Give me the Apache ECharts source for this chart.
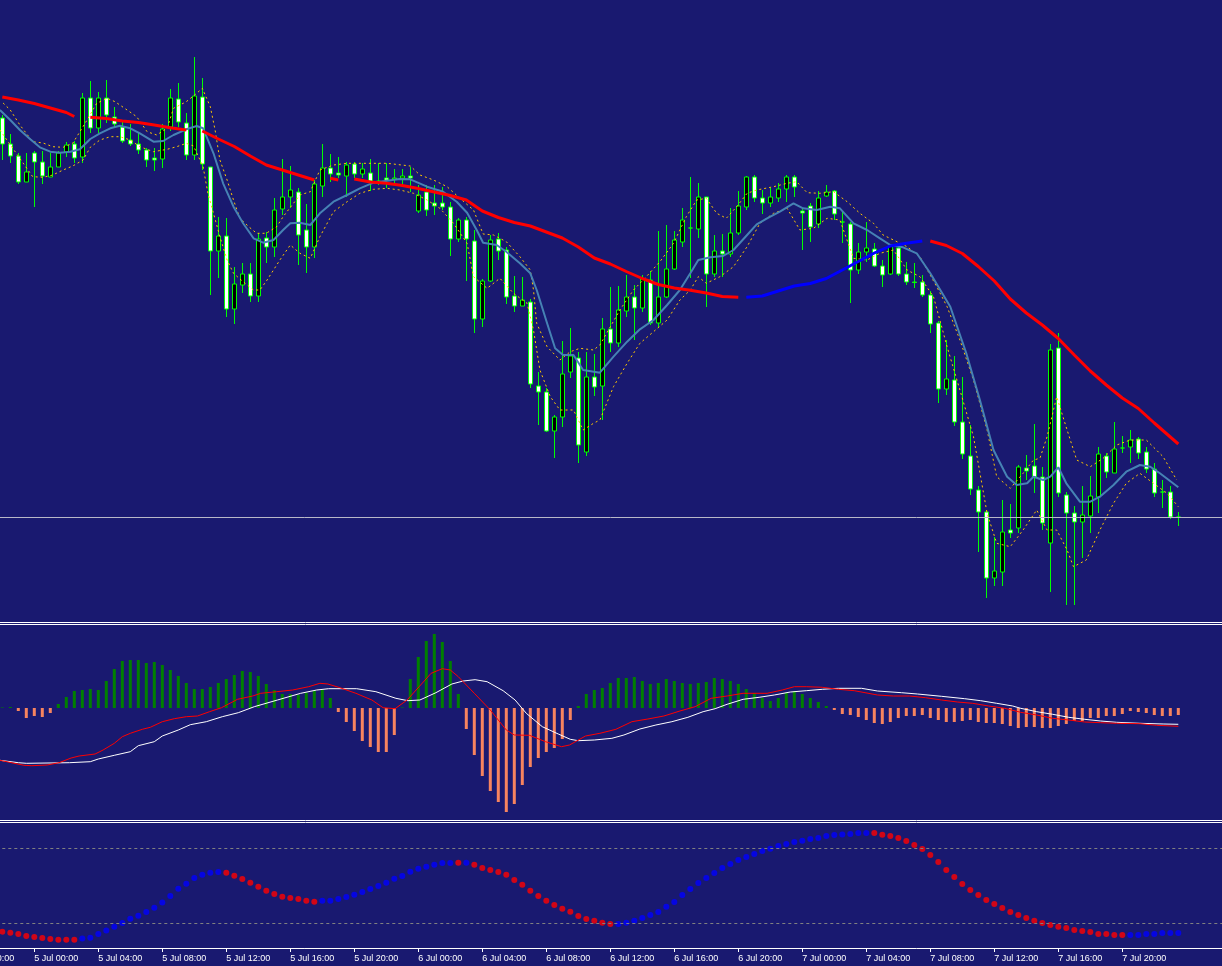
<!DOCTYPE html>
<html><head><meta charset="utf-8">
<script src="https://cdn.jsdelivr.net/npm/echarts@6/dist/echarts.min.js"></script>
<style>html,body{margin:0;padding:0;background:#191970;overflow:hidden}#c{width:1222px;height:966px}</style>
</head><body><div id="c"></div>
<script>
// ---- time axis labels (one every 8 bars of 30 min, first at 4 Jul 20:00) ----
const tickLabels = ["4 Jul 20:00","5 Jul 00:00","5 Jul 04:00","5 Jul 08:00","5 Jul 12:00","5 Jul 16:00","5 Jul 20:00",
  "6 Jul 00:00","6 Jul 04:00","6 Jul 08:00","6 Jul 12:00","6 Jul 16:00","6 Jul 20:00",
  "7 Jul 00:00","7 Jul 04:00","7 Jul 08:00","7 Jul 12:00","7 Jul 16:00","7 Jul 20:00"];
const LEAD = 4, TRAIL = 5;            // empty slots before first / after last bar
// ---- candles: [open, close, low, high] (price units) ----
const candles = [
[502,476,460,505],[476,464,457,486],[464,438,436,467],[438,448,438,467],[467,458,413,469],
[458,444,436,469],[443,453,443,467],[453,467,453,469],[468,475,463,478],[476,462,457,479],
[463,522,457,527],[522,492,487,539],[492,522,487,528],[522,505,497,540],[503,496,492,513],
[493,479,477,498],[480,476,474,496],[476,470,466,487],[470,460,453,472],[462,460,449,472],
[461,491,452,496],[493,522,489,531],[521,498,493,537],[497,465,460,507],[465,524,460,563],
[523,456,450,542],[453,369,325,453],[369,384,342,403],[384,311,303,402],[311,336,296,353],
[335,346,327,357],[346,324,318,357],[324,381,318,387],[382,373,357,388],[373,410,363,422],
[411,423,405,461],[423,430,412,454],[428,385,355,432],[390,373,347,416],[373,436,362,440],
[434,452,423,476],[452,446,438,466],[447,445,442,463],[444,455,423,458],[456,446,442,458],
[446,451,442,457],[447,439,429,461],[439,438,435,457],[442,440,432,457],[441,442,435,451],
[442,444,435,451],[444,442,428,453],[409,425,407,435],[428,410,404,435],[417,414,405,435],
[417,413,410,433],[413,381,364,418],[381,400,378,402],[400,381,339,403],[379,301,287,390],
[301,339,293,341],[339,380,338,385],[381,369,360,387],[370,323,316,373],[324,314,308,344],
[314,320,314,343],[318,236,232,321],[234,228,195,248],[228,189,188,232],[189,203,162,205],
[203,246,193,279],[248,264,242,292],[262,175,157,268],[168,243,164,268],[243,233,224,266],
[234,291,200,302],[291,277,268,333],[277,310,273,334],[309,323,303,345],[323,312,280,335],
[312,341,308,345],[340,297,295,349],[297,323,293,389],[323,351,322,395],[351,380,350,389],
[378,400,373,412],[392,392,342,443],[391,423,382,437],[423,346,313,423],[346,369,343,385],
[369,366,343,386],[366,387,363,412],[387,414,385,429],[413,443,410,444],[443,422,418,445],
[422,417,406,430],[417,423,413,432],[422,431,418,437],[431,443,418,445],[443,433,423,445],
[409,407,370,412],[414,393,378,417],[396,422,392,429],[424,428,423,435],[429,406,400,430],
[398,398,377,408],[396,350,317,398],[350,368,346,377],[368,372,358,398],[371,354,353,377],
[354,345,333,360],[346,374,345,376],[372,346,344,375],[346,338,335,358],[338,337.5,332,357],
[338,325,323,345],[325,296,287,329],[297,231,217,299],[231,241,225,280],[240,198,194,264],
[198,166,161,243],[164,131,125,195],[130,108,68,134],[108,42,22,110],[42,49,34,83],
[48,88,34,120],[90,87,82,116],[92,153,87,155],[152,149,140,165],[154,143,127,196],
[143,97,90,153],[77,270,28,276],[272,127,123,287],[125,107,15,128],[107,98,15,114],
[98,105,62,134],[104,124,87,144],[123,166,107,173],[164,148,142,167],[147,171,147,198],
[172,172,167,184],[173,180,157,190],[181,167,161,183],[168,151,147,173],[151,127,123,157],
[128,128,112,140],[128,103,101,134],[103,103,94,108]];
const bidPrice = 103;
// ---- slow MA, drawn red while falling and blue while rising: [bar, value] ----
const maRedSegments = [
 [[0,523],[2,520],[4,516.5],[6,512],[8,507.5],[9,503.5]],
 [[11,502.7],[13,501.5],[15,499],[17,497.5],[19,495],[21,492.3],[23,490]],
 [[25,489],[27,481],[29,473.5],[31,464],[33,455],[35,450],[37,445],[39,440]],
 [[41,441.7],[42,440]],
 [[44,441],[46,438],[48,436.7],[50,434.5],[52,431.5],[54,428],[56,424.5],[58,420],[60,409],[62,402.5],[64,397.5],[66,394],[68,388],[70,382],[72,373],[74,362],[76,356],[78,348.5],[80,341.5],[82,335.5],[84,332],[86,329.7],[88,327],[90,323.5],[92,322.7]],
 [[116,379],[118,374.5],[120,366.5],[122,353.5],[124,339],[126,321],[128,307],[130,295],[132,281.5],[134,265],[136,249],[138,235],[140,222],[142,211.5],[144,197],[146,183],[147,176]]
];
const maBlueSegments = [
 [[93,322.7],[95,324],[97,329],[99,334],[101,336.5],[103,341.5],[105,350],[107,358.5],[109,367],[111,374],[113,376.7],[115,379]]
];
// ---- fast MA (steel blue) ----
const maFast = [[-0.3,510],[1,500],[2.2,490],[3.5,480.7],[4.7,472.7],[6,468.3],[7.2,467.3],[8.5,468.3],[9.7,470.7],[11,481],[12.2,486.7],[13.5,491.7],[14.7,494.3],[16,491.7],[17.2,486.7],[18.9,478.3],[20.1,479],[21.4,485],[23,490.7],[24.3,494],[25.1,491.7],[26.4,466.7],[27.6,436.7],[28.9,413.3],[30.1,396.7],[31.4,381.7],[32.6,377.3],[33.9,380],[35.1,390],[36,396.7],[37.2,397.3],[38.5,395],[39.7,406.7],[41.4,418.3],[43.1,425],[44.7,431.7],[46.4,437.3],[48.1,439.3],[49.7,441],[51,440.7],[53.1,433.3],[55.1,428.3],[56.8,418.3],[58.1,407.3],[59.3,390],[60.1,377.3],[61.8,375],[63,368.3],[64.7,356.7],[66,346.7],[66.8,330],[68.1,296.7],[69.1,271.7],[70.1,265],[71.4,265],[72.6,250],[74.7,247.3],[76.4,263.3],[78.1,278.3],[79.7,290.7],[81.4,300],[83.1,315],[84.7,330],[86,346.7],[87,360],[88.5,362.7],[90.1,364],[91.4,370],[93.1,385],[94.3,395.7],[95.6,401.7],[97.2,408.3],[98.9,416.7],[100.1,411.7],[101.8,410],[103.5,413.3],[104.7,411.7],[106.4,396.7],[108.1,390],[109.7,381.7],[111,375],[112.6,372.7],[114.3,366.7],[116,346.7],[118.5,313.3],[120.5,266.7],[122.2,220],[123.9,170],[125.6,143.3],[126.8,135],[128.1,136.7],[128.9,143.3],[130.1,140],[131,143.3],[132,152.7],[133,136.7],[134.7,118.3],[136,118.3],[137.2,123.3],[138.9,135],[140.5,148.3],[142.2,155],[143.5,153.3],[144.7,146.7],[147,132.7]];
// ---- envelope bands (dotted yellow) ----
const bandUpper = [[0.1,517],[1,510],[2.2,495],[3.8,478.3],[5.1,477],[6.3,473.3],[7.6,472.7],[8.8,476.7],[9.7,488.3],[10.6,500],[11.8,516.7],[13.1,521.7],[14.1,518.3],[15.6,510],[16.8,503.3],[18.1,488.3],[19.3,485],[20.6,491.7],[21.4,511.7],[23,518.3],[24.3,526.7],[25,531.7],[26,513.3],[26.6,490],[27.2,460],[28.1,440],[28.9,420],[29.7,401.7],[30.8,393.3],[31.8,386.7],[33,386.7],[34.3,393.3],[35.1,403.3],[36.4,416.7],[37.2,425],[38.5,428.3],[39.7,450],[41.4,455],[43.1,456.7],[45.5,456.7],[48.1,456.7],[51,454],[52.2,445],[53.9,440],[55.6,433.3],[57.2,421.7],[58.9,410],[60.1,386],[61.4,385],[63,378.3],[64.7,363.3],[66,350],[66.4,330],[66.8,296.7],[68.1,273.3],[69.7,260],[71,268.3],[72.2,271.7],[73.9,270],[74.7,275],[77.2,310],[78.9,330],[80.5,343.3],[82.2,358.3],[83.9,376.7],[85.5,403.3],[86.8,420],[88,421.7],[89.3,406.7],[90.5,401.7],[91.8,413.3],[93.1,426.7],[94.3,430],[96.4,433.3],[98.1,436.7],[99.3,438.3],[100.6,427.3],[102.2,426.7],[103.9,428.3],[105.6,418.3],[107.2,406.7],[108.9,396.7],[110.1,385],[111.4,380],[113.1,373.3],[114.7,363.3],[116.8,333.3],[118.1,313.3],[119.7,280],[121.4,240],[123.1,190],[124.3,143.3],[126,131.7],[127.6,146.7],[128.9,160],[129.7,161.7],[130.6,183.3],[131.8,223.3],[133.1,190],[134.3,160],[136,153.3],[137.6,161.7],[139.3,175],[141,180],[143,180],[145.1,163.3],[146.8,140]];
const bandLower = [[-0.3,490],[3.8,443.3],[5.1,442.7],[6.3,445],[7.6,450],[8.8,454],[10.1,460],[11,472.7],[12.2,480],[13.5,483.3],[14.7,483.3],[16,480],[17.2,473.3],[18.9,468.3],[20.6,470.7],[21.8,473.3],[23,476.7],[23.9,474],[25.1,453.3],[25.7,426.7],[26.4,406.7],[27.2,383.3],[28.1,360],[28.9,346.7],[30.1,338.3],[31.4,330],[32.2,330],[33.1,340],[33.9,350],[34.7,360],[36,375],[37.2,366.7],[38.5,361.7],[39.7,383.3],[41.4,408.3],[43.1,418.3],[44.7,426.7],[46.4,430.7],[48.1,431.7],[49.7,430],[51.4,426.7],[53.1,420],[54.7,411.7],[56.4,396.7],[58.1,376.7],[58.9,343.3],[60.6,331.7],[62.2,341.7],[63.9,326.7],[65.6,316.7],[66.4,290],[67.2,250],[68.5,223.3],[69.7,210],[71.4,210],[72.6,190],[73.9,196.7],[74.7,200],[76.4,233.3],[78.1,256.7],[79.7,276.7],[81.4,288.3],[83.1,300],[84.7,320],[86,330],[87,343.3],[88,336.7],[89.7,343.3],[91.4,353.3],[93.1,373.3],[94.7,396.7],[96.4,406.7],[98.1,411.7],[99.7,390],[101.4,391.7],[103.1,401.7],[104.7,400],[106.4,361.7],[108.1,360],[109.7,366.7],[111.4,370],[113.1,350],[114.7,343.3],[116.4,323.3],[118.1,273.3],[119.7,230],[121.4,183.3],[123.1,106.7],[124.3,76.7],[126,73.3],[127.6,90],[129.3,110],[130.6,90],[131.8,90],[133.1,70],[133.9,53.3],[135.5,60],[137.2,90],[138.9,116.7],[140.5,136.7],[142.2,146.7],[143.9,136.7],[145.6,126.7],[147,113.3]];
// ---- MACD panel ----
const macdHist = [0.5,1,-3,-10,-8,-9,-5,4,11,17, 18,19,18,27,39,47,48,48,45,46, 43,38,32,25,19,19,21,25,29,33,
 37,36,32,24,18,14,14,13,15,17, 18,10,-4,-14,-23,-33,-39,-44,-44,-27, 0.5,29,51,67,74,66,47,14,-21,-47,
 -68,-83,-94,-104,-96,-77,-59,-50,-44,-40, -31,-12,2,14,18,20,25,30,30,31, 27,24,25,29,27,25,24,25,26,30,
 29,27,24,19,15,10,7,10,15,17, 14,10,6,2,-2,-6,-7,-9,-12,-15, -16,-14,-10,-8,-8,-7,-10,-12,-14,-14,
 -13,-12,-14,-15,-15,-16,-18,-20,-19,-19, -20,-20,-18,-16,-13,-13,-10,-10,-8,-8, -6,-3,-4,-5,-7,-8,-8,-7];
const macdWhite = [[-0.3,-52.3],[2,-54.7],[3,-55.3],[8.4,-54.7],[11,-53.7],[12,-51],[14,-47.3],[16,-43.7],[17,-37.7],[19,-33.7],[20,-28],[22,-22],[23.5,-16.7],[25.5,-13.7],[27.5,-8.7],[29.5,-4.7],[31.5,1.3],[34.4,8],[37.3,14.7],[39.3,18],[40.8,19.3],[44.3,19.3],[46.7,16.3],[49.2,9.7],[50.7,7.3],[52.2,8],[54.2,15.3],[56.2,24],[57.6,27],[59.1,28.3],[60.6,26.3],[62.6,17.3],[64.1,8],[65.5,-5.3],[67.5,-18.7],[69.5,-26],[71,-31.3],[72,-32.7],[74,-32],[76.2,-30.3],[77.7,-27],[79.7,-21],[81.7,-17],[83.7,-13.7],[85.7,-9.3],[87.6,-3.7],[89.1,-0.7],[90.6,3.7],[92.6,8.7],[94.6,10.7],[96.5,13],[98.5,16],[100.5,17.3],[102.5,18.7],[104.5,19.7],[107.4,19.7],[109.4,17],[112.4,15.3],[114.4,14],[117.4,11.7],[120.3,9.3],[122.3,7.3],[124.3,4.7],[126.3,2],[127.3,-0.3],[129.3,-3.7],[131.3,-6.3],[133.3,-9.3],[135.3,-11.3],[137.3,-13],[139.3,-14.3],[142.2,-15.3],[145.2,-16],[147,-16.3]];
const macdRed = [[-0.3,-52.3],[2.7,-57.3],[3.7,-57.7],[5.6,-57],[7.1,-54.7],[8.6,-50],[9.6,-48],[11.6,-46],[12.6,-42],[14,-35.3],[15,-28.7],[16,-25.3],[17.5,-21.3],[18.5,-19.3],[20,-13.7],[21.5,-10.7],[23,-8.7],[24.4,-8],[25.9,-3.7],[27.4,0.3],[29.4,8.7],[31.3,12],[32.3,14.7],[34.3,16.3],[36.3,18],[38.3,21.3],[39.7,24.7],[40.7,24],[42.2,20.3],[44.2,14.7],[46.2,8],[47.6,0.3],[49.1,-0.7],[50.6,8],[52.1,21.3],[53.6,34.7],[55,39.3],[56,38],[57,31.3],[59,14.7],[61,-2],[63,-22],[64,-27],[65.9,-27.3],[67.9,-33.7],[69.9,-38.7],[70.9,-37],[72.9,-28],[74.7,-25.3],[76.7,-21.3],[78.7,-13.7],[80.7,-11],[82.7,-8],[84.7,-3],[86.6,1.3],[88.6,9.7],[90.6,12],[92.6,14.7],[95.6,14.7],[97.5,18],[99,21.3],[100.5,21.3],[102.5,20.7],[104.5,18.7],[106.5,17.3],[109.4,13],[111.4,12],[113.4,12],[115.4,10.3],[117.4,8],[119.4,6],[121.3,4.7],[123.3,2],[125.3,-0.3],[127.3,-4.3],[129.3,-7],[131.3,-10.3],[133.3,-12],[135.3,-14],[137.3,-14.7],[139.3,-15.3],[142.2,-15.7],[144.3,-17.3],[147,-18.3]];
// ---- dotted oscillator (0..100) ----
const dotValues = [13.1,12.3,11.2,9.6,8.8,8,7.2,6.7,6.7,6.7,
 7.7,8.3,11.2,14.1,17.1,20,23.5,25.9,28.8,32.3,36.5,41.6,47.5,51.5,56,58.7,60.3,60.8,
 60.3,57.9,55.2,52.3,49.1,45.9,43.2,41.1,40,39.2,37.9,37.1,
 37.9,37.9,39.2,40.8,42.7,44.8,47.2,49.6,52.3,55.5,57.6,61.1,63.5,65.1,66.7,68,68,
 68.3,68.3,
 66.7,64,62.4,60.8,58.7,54.4,50.7,45.9,41.6,37.9,34.4,31.5,29.1,25.6,23.2,21.9,20.3,19.2,
 19.2,20.3,21.9,24,26.4,28.8,33.1,36.8,42.4,47.2,52,56,60,64,67.2,70.4,72.8,75.2,77.6,79.5,81.6,83.2,84.8,85.9,87.2,88,89.6,90.4,90.9,91.2,92,92,
 92,90.7,89.6,88,85.6,82.4,79.2,74.4,68.8,62.4,56.8,51.2,46.4,42.4,38.4,35.2,32,28.8,26.4,24,21.9,20,18.4,17.1,16,14.4,13.6,12.8,11.2,11.2,10.4,10.4,
 10.4,10.4,11.2,11.2,12,12,12];
const dotBlueRanges = [[10,27],[40,56],[58,58],[77,108],[141,147]];
const dotLevels = [80, 20];

// ---------------- chart ----------------
const NBARS = candles.length;
const NCAT = LEAD + NBARS + TRAIL;
const cats = Array.from({length: NCAT}, (_, k) => 'b' + k);
const pad = a => [...Array(LEAD).fill('-'), ...a, ...Array(TRAIL).fill('-')];
const isBlue = i => dotBlueRanges.some(r => i >= r[0] && i <= r[1]);
const dotsBlue = [], dotsRed = [];
dotValues.forEach((v, i) => (isBlue(i) ? dotsBlue : dotsRed).push([i, v]));
const showTick = idx => idx % 8 === 0 && idx / 8 < tickLabels.length;

const GL = -33.7, GW = NCAT * 8;
const gridBase = {left: GL, width: GW, outerBoundsMode: 'none', containLabel: false};
const grids = [
  Object.assign({top: 0, height: 620}, gridBase),
  Object.assign({top: 626, height: 194}, gridBase),
  Object.assign({top: 823, height: 125}, gridBase)
];
const hidden = {show: false};
const catAxis = (g, visible) => ({
  type: 'category', gridIndex: g, data: cats, boundaryGap: true, show: visible,
  axisLine: {show: visible, lineStyle: {color: '#ffffff', width: 1}},
  axisTick: {show: visible, alignWithLabel: true, interval: showTick, length: 4, lineStyle: {color: '#ffffff'}},
  axisLabel: {show: visible, interval: showTick, formatter: (v, idx) => tickLabels[idx / 8] || '',
    align: 'left', color: '#ffffff', fontSize: 9, fontFamily: 'Liberation Sans', margin: 6, hideOverlap: false},
  splitLine: hidden
});
const valX = g => ({type: 'value', gridIndex: g, min: -LEAD - 0.5, max: NBARS + TRAIL - 0.5, show: false, splitLine: hidden});
const line = (data, color, width, xi, yi, type) => ({
  type: 'line', data, xAxisIndex: xi, yAxisIndex: yi, symbol: 'none', silent: true, z: 5,
  lineStyle: {color, width, type: type || 'solid'}, animation: false
});

const series = [
  {type: 'candlestick', xAxisIndex: 0, yAxisIndex: 0, data: pad(candles), barWidth: 4, z: 3, silent: true,
   itemStyle: {color: '#000000', color0: '#ffffff', borderColor: '#00ff00', borderColor0: '#00ff00', borderColorDoji: '#00ff00', borderWidth: 1},
   markLine: {silent: true, symbol: 'none', label: {show: false}, animation: false,
     lineStyle: {color: '#b8b8c8', width: 1, type: 'solid'}, data: [{yAxis: bidPrice}]}},
  line(bandUpper, '#ffc800', 1, 3, 0, [2, 3]),
  line(bandLower, '#ffc800', 1, 3, 0, [2, 3]),
  line(maFast, '#4682b4', 2, 3, 0),
  ...maRedSegments.map(s => line(s, '#ff0000', 3, 3, 0)),
  ...maBlueSegments.map(s => line(s, '#0000ff', 3, 3, 0)),
  {type: 'bar', xAxisIndex: 1, yAxisIndex: 1, data: pad(macdHist), barWidth: 3, silent: true, animation: false,
   itemStyle: {color: p => (p.value >= 0 ? '#008000' : '#f7845f')}},
  line(macdWhite, '#ffffff', 1, 4, 1),
  line(macdRed, '#ff0000', 1, 4, 1),
  {type: 'scatter', xAxisIndex: 5, yAxisIndex: 2, data: dotsRed, symbolSize: 6, silent: true, animation: false,
   itemStyle: {color: '#ff0000'},
   markLine: {silent: true, symbol: 'none', label: {show: false}, animation: false,
     lineStyle: {color: '#808080', width: 1, type: [3, 3]}, data: dotLevels.map(v => ({yAxis: v}))}},
  {type: 'scatter', xAxisIndex: 5, yAxisIndex: 2, data: dotsBlue, symbolSize: 6, silent: true, animation: false,
   itemStyle: {color: '#0000ff'}}
];

const chart = echarts.init(document.getElementById('c'), null, {renderer: 'canvas'});
chart.setOption({
  backgroundColor: '#191970',
  animation: false,
  textStyle: {fontFamily: 'Liberation Sans'},
  grid: grids,
  xAxis: [catAxis(0, false), catAxis(1, false), catAxis(2, true), valX(0), valX(1), valX(2)],
  yAxis: [
    {type: 'value', gridIndex: 0, min: 0, max: 620, show: false, splitLine: hidden},
    {type: 'value', gridIndex: 1, min: -112, max: 82, show: false, splitLine: hidden},
    {type: 'value', gridIndex: 2, min: 0, max: 100, show: false, splitLine: hidden}
  ],
  graphic: [622.5, 624.5, 820.5, 822.5].map(y => ({type: 'line', silent: true, z: 10,
    shape: {x1: 0, y1: y, x2: 1222, y2: y}, style: {stroke: '#ffffff', lineWidth: 1}})),
  series
});
</script>
</body></html>
